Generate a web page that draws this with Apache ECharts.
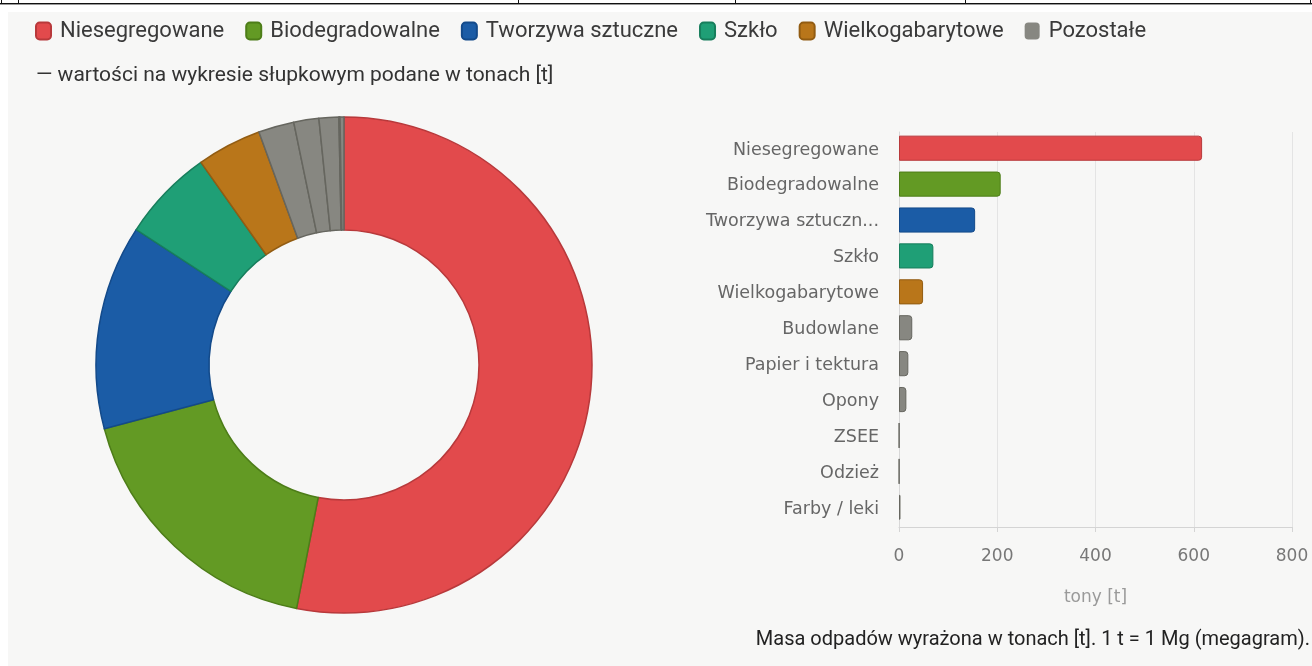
<!DOCTYPE html>
<html>
<head>
<meta charset="utf-8">
<script src="https://cdn.jsdelivr.net/npm/echarts@6/dist/echarts.min.js"></script>
<style>
  html, body { margin: 0; padding: 0; background: #fff; width: 1312px; height: 666px; overflow: hidden; }
  .rule { position: absolute; left: 0; top: 0; width: 1312px; height: 3px; border-bottom: 1px solid #111; box-shadow: 0 1px 0 #999; }
  .cell { position: absolute; top: 0; width: 1px; height: 3px; background: #111; }
  #chart { position: absolute; left: 8px; top: 12px; width: 1304px; height: 654px; background: #f7f7f6; }
</style>
</head>
<body>
<div class="rule"></div>
<div class="cell" style="left:1px"></div>
<div class="cell" style="left:18px"></div>
<div class="cell" style="left:518px"></div>
<div class="cell" style="left:735px"></div>
<div class="cell" style="left:965px"></div>
<div class="cell" style="left:1310px"></div>
<div id="chart"></div>
<script>
// kategorie odpadów i masy w tonach
const categories = ['Niesegregowane', 'Biodegradowalne', 'Tworzywa sztuczne', 'Szkło', 'Wielkogabarytowe',
  'Budowlane', 'Papier i tektura', 'Opony', 'ZSEE', 'Odzież', 'Farby / leki']
const tonnes = [617, 207, 155, 70, 49, 27, 19, 15, 0.4, 0.4, 3]
const legendNames = ['Niesegregowane', 'Biodegradowalne', 'Tworzywa sztuczne', 'Szkło', 'Wielkogabarytowe', 'Pozostałe']
const xTicks = [0, 200, 400, 600, 800]

const grey = '#878781'
const greyBorder = '#66665f'
const palette = ['#e24a4c', '#639a24', '#1b5ca6', '#1f9f76', '#b9761a']
const borderPalette = ['#b8393b', '#4d7d18', '#134a8a', '#177e5c', '#925c12']

const colorOf = i => palette[i] || grey
const borderOf = i => borderPalette[i] || greyBorder

// długie etykiety osi skracane jak w oryginale
const shortLabel = s => (s.length > 16 ? s.slice(0, 16) + '...' : s)

const chart = echarts.init(document.getElementById('chart'))

const textFont = 'Roboto'
const axisFont = 'DejaVu Sans'

const option = {
  backgroundColor: '#f7f7f6',
  animation: false,
  title: [
    {
      text: '— wartości na wykresie słupkowym podane w tonach [t]',
      left: 28,
      top: 53,
      padding: 0,
      textStyle: { fontFamily: textFont, fontSize: 21, fontWeight: 'normal', color: '#333' }
    },
    {
      text: 'Masa odpadów wyrażona w tonach [t]. 1 t = 1 Mg (megagram).',
      right: 2,
      top: 618,
      padding: 0,
      textStyle: { fontFamily: textFont, fontSize: 20, fontWeight: 'normal', color: '#222' }
    }
  ],
  legend: {
    data: legendNames,
    left: 27,
    top: 8,
    padding: 0,
    icon: 'roundRect',
    itemWidth: 15,
    itemHeight: 17,
    itemGap: 21,
    textStyle: { fontFamily: textFont, fontSize: 22, color: '#3a3a3a', padding: [0, 0, 0, 4] }
  },
  grid: { left: 891, right: 20, top: 120, height: 395 },
  xAxis: {
    type: 'value',
    min: xTicks[0],
    max: xTicks[xTicks.length - 1],
    interval: 200,
    name: 'tony [t]',
    nameLocation: 'middle',
    nameGap: 62,
    nameTextStyle: { fontFamily: axisFont, fontSize: 17, color: '#9a9a9a' },
    axisLine: { show: true, lineStyle: { color: '#d4d4d4' } },
    axisTick: { show: true, length: 5, lineStyle: { color: '#d4d4d4' } },
    axisLabel: { margin: 21, fontFamily: axisFont, fontSize: 17, color: '#777' },
    splitLine: { show: true, lineStyle: { color: '#e4e4e4' } }
  },
  yAxis: {
    type: 'category',
    data: categories,
    inverse: true,
    axisLine: { show: true, lineStyle: { color: '#d8d8d8' } },
    axisTick: { show: false },
    axisLabel: {
      margin: 20,
      fontFamily: axisFont,
      fontSize: 17.5,
      color: '#666',
      formatter: shortLabel
    }
  },
  series: [
    {
      name: 'Odpady',
      type: 'pie',
      center: [336, 353],
      radius: [135, 248],
      startAngle: 90,
      clockwise: true,
      label: { show: false },
      labelLine: { show: false },
      data: categories.map((name, i) => ({
        name,
        value: tonnes[i],
        itemStyle: { color: colorOf(i), borderColor: borderOf(i), borderWidth: 1.5 }
      }))
    },
    {
      name: 'tony',
      type: 'bar',
      barWidth: '70%',
      data: tonnes.map((v, i) => ({
        value: v,
        itemStyle: { color: colorOf(i), borderColor: borderOf(i), borderWidth: 1, borderRadius: [0, 3, 3, 0] }
      }))
    },
    {
      // wpis legendy dla pozostałych kategorii
      name: 'Pozostałe',
      type: 'bar',
      data: [],
      itemStyle: { color: grey }
    }
  ]
}

chart.setOption(option)
</script>
</body>
</html>
